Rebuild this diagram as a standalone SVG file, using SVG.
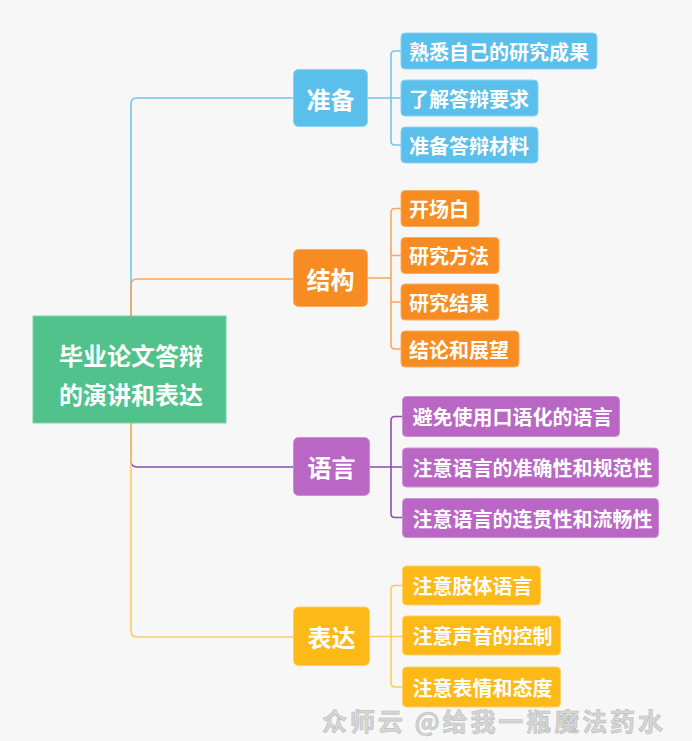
<svg xmlns="http://www.w3.org/2000/svg" width="692" height="741" viewBox="0 0 692 741">
<defs>
<style>
.t{font-family:"Noto Sans CJK SC","Noto Sans",sans-serif;font-weight:bold;fill:#ffffff;dominant-baseline:central}
.mid{font-size:24px;text-anchor:middle}
.leaf{font-size:20px}
.c{fill:none;stroke-width:1.6}
.blue{fill:#5BBFEC;stroke:#8DD3F3;stroke-width:1}
.orange{fill:#F68C22;stroke:#F9AE63;stroke-width:1}
.purple{fill:#B966C5;stroke:#CC90D6;stroke-width:1}
.yellow{fill:#FCB918;stroke:#FDD06A;stroke-width:1}
.cb{stroke:#72C6EE}.co{stroke:#F8A65B}.cp{stroke:#8C4FAB}.cy{stroke:#FDCB5E}
</style>
</defs>
<rect x="0" y="0" width="692" height="741" fill="#F7F7F7"/>
<g id="connectors">
<path class="c cb" d="M131,316 V104 Q131,98 137,98 H293"/>
<path class="c co" d="M131,316 V285 Q131,279 137,279 H293"/>
<path class="c cp" d="M131,423 V461 Q131,467 137,467 H293"/>
<path class="c cy" d="M131,423 V631 Q131,637 137,637 H293"/>
<path class="c cb" d="M368,98 H401 M401,51 H395 Q391,51 391,55 V141 Q391,145 395,145 H401"/>
<path class="c co" d="M368,278 H391 M401,208.5 H395 Q391,208.5 391,212.5 V345 Q391,349 395,349 H401 M391,255.5 H401 M391,302 H401"/>
<path class="c cp" d="M369,467 H402 M402,416.5 H395 Q391,416.5 391,420.5 V513.5 Q391,517.5 395,517.5 H402"/>
<path class="c cy" d="M369,636.5 H402 M402,585.5 H395 Q391,585.5 391,589.5 V683 Q391,687 395,687 H402"/>
</g>
<g id="root">
<rect x="33" y="316" width="193" height="107" fill="#52C28C" stroke="#7BD2A8" stroke-width="1"/>
<text class="t" x="131" y="354" font-size="24" text-anchor="middle">毕业论文答辩</text>
<text class="t" x="131" y="393" font-size="24" text-anchor="middle">的演讲和表达</text>
</g>
<g id="n-zhunbei">
<rect class="blue" x="293.5" y="69.5" width="74" height="57" rx="5"/>
<text class="t mid" x="330.5" y="98">准备</text>
</g>
<g id="n-b1"><rect class="blue" x="401" y="33" width="196" height="36" rx="4"/><text class="t leaf" x="409" y="51">熟悉自己的研究成果</text></g>
<g id="n-b2"><rect class="blue" x="401" y="80" width="137" height="36" rx="4"/><text class="t leaf" x="409" y="98">了解答辩要求</text></g>
<g id="n-b3"><rect class="blue" x="401" y="127" width="137" height="36" rx="4"/><text class="t leaf" x="409" y="145">准备答辩材料</text></g>
<g id="n-jiegou">
<rect class="orange" x="293.5" y="249.5" width="74" height="57" rx="5"/>
<text class="t mid" x="330.5" y="278">结构</text>
</g>
<g id="n-o1"><rect class="orange" x="401" y="190.5" width="78" height="36" rx="4"/><text class="t leaf" x="409" y="208.5">开场白</text></g>
<g id="n-o2"><rect class="orange" x="401" y="237.5" width="98" height="36" rx="4"/><text class="t leaf" x="409" y="255.5">研究方法</text></g>
<g id="n-o3"><rect class="orange" x="401" y="284" width="98" height="36" rx="4"/><text class="t leaf" x="409" y="302">研究结果</text></g>
<g id="n-o4"><rect class="orange" x="401" y="331" width="118" height="36" rx="4"/><text class="t leaf" x="409" y="349">结论和展望</text></g>
<g id="n-yuyan">
<rect class="purple" x="293.5" y="437.5" width="76" height="58" rx="5"/>
<text class="t mid" x="331.5" y="466.5">语言</text>
</g>
<g id="n-p1"><rect class="purple" x="402.5" y="396.5" width="217" height="40" rx="4"/><text class="t leaf" x="412.5" y="416.5">避免使用口语化的语言</text></g>
<g id="n-p2"><rect class="purple" x="402.5" y="448" width="256" height="39" rx="4"/><text class="t leaf" x="412.5" y="467.5">注意语言的准确性和规范性</text></g>
<g id="n-p3"><rect class="purple" x="402.5" y="498.5" width="256" height="39" rx="4"/><text class="t leaf" x="412.5" y="518">注意语言的连贯性和流畅性</text></g>
<g id="n-biaoda">
<rect class="yellow" x="293.5" y="607" width="76" height="58.5" rx="5"/>
<text class="t mid" x="331.5" y="636.5">表达</text>
</g>
<g id="n-y1"><rect class="yellow" x="402.5" y="566" width="138" height="39" rx="4"/><text class="t leaf" x="412.5" y="585.5">注意肢体语言</text></g>
<g id="n-y2"><rect class="yellow" x="402.5" y="616" width="158" height="39" rx="4"/><text class="t leaf" x="412.5" y="635.5">注意声音的控制</text></g>
<g id="n-y3"><rect class="yellow" x="402.5" y="667" width="158" height="40" rx="4"/><text class="t leaf" x="412.5" y="687">注意表情和态度</text></g>
<g id="watermark">
<text x="322" y="720" font-family="Noto Sans CJK SC, sans-serif" font-weight="bold" font-size="25" fill="#D6D6D6" stroke="#BBBBBB" stroke-width="0.6" dominant-baseline="central" textLength="341" lengthAdjust="spacing">众师云 @给我一瓶魔法药水</text>
</g>
</svg>
